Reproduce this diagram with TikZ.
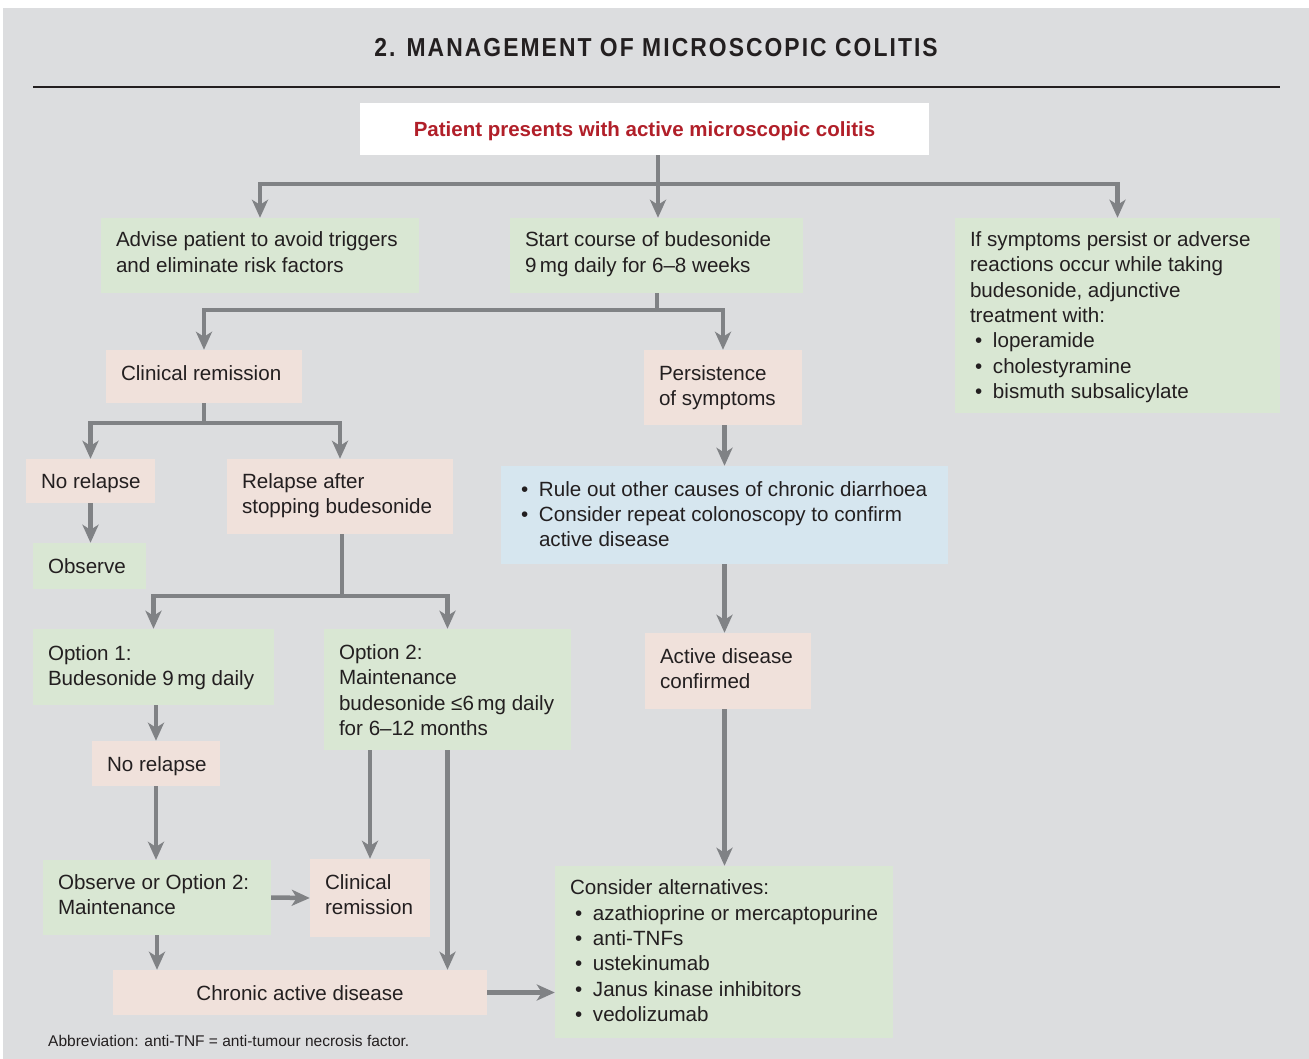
\documentclass[tikz,border=0pt]{standalone}
\usepackage{fontspec}
\setmainfont{Liberation Sans}
\usetikzlibrary{arrows.meta}
\definecolor{bgcol}{HTML}{DCDDDF}
\definecolor{gfill}{HTML}{D9E7D3}
\definecolor{pfill}{HTML}{F0E1DB}
\definecolor{bfill}{HTML}{D6E6EF}
\definecolor{agray}{HTML}{808285}
\definecolor{txtcol}{HTML}{231F20}
\definecolor{titlered}{HTML}{B11F29}
\newcommand{\bul}{\hspace*{5pt}\makebox[18pt][l]{\textbullet}}
\newcommand{\bulind}{\hspace*{23pt}}
% fixed-width, left-aligned block of lines; optional visual raise
\newcommand{\tb}[3][0pt]{\raisebox{#1}[\height][\depth]{\makebox[#2pt][l]{\begin{tabular}[c]{@{}l@{}}#3\end{tabular}}}}
\begin{document}
\begin{tikzpicture}[x=1pt,y=-1pt,
  base/.style={inner xsep=15pt, inner ysep=0pt, text=txtcol,
    font=\fontsize{20.6}{25.3}\selectfont},
  gbox/.style={base, fill=gfill},
  pbox/.style={base, fill=pfill},
  bbox/.style={base, fill=bfill},
  conn/.style={draw=agray, line width=4.5pt, line join=miter},
  arr/.style={conn, -{Stealth[length=18pt,width=16pt,inset=5pt]}},
]
\useasboundingbox (0,0) rectangle (1309,1059);
\fill[white] (0,0) rectangle (1309,1059);
\fill[bgcol] (3,8) rectangle (1309,1059);

% title and rule
\node[text=txtcol, font=\fontsize{26}{30}\selectfont\bfseries\addfontfeature{FakeStretch=0.88,LetterSpace=7.9}] (title) at (656,48) {2. MANAGEMENT OF MICROSCOPIC COLITIS};
\coordinate (rl) at (33,87);
\coordinate (rr) at (1280,87);
\draw[line width=1.5pt, txtcol] (rl) -- (rr);

% top box
\node[fill=white, inner sep=0pt, minimum width=569, minimum height=52, text=titlered,
  font=\fontsize{20.5}{24}\selectfont\bfseries] (top) at (644.5,129) {\raisebox{-2pt}[\height][\depth]{Patient presents with active microscopic colitis}};

% level 1
\node[gbox, minimum width=318, minimum height=75] (adv) at (260,255.5)
  {\tb[1pt]{288}{Advise patient to avoid triggers\\and eliminate risk factors}};
\node[gbox, minimum width=293, minimum height=75] (bud) at (656.5,255.5)
  {\tb[1pt]{263}{Start course of budesonide\\9\,mg daily for 6–8 weeks}};
\node[gbox, minimum width=325, minimum height=195] (adj) at (1117.5,315.5)
  {\tb[-2pt]{295}{If symptoms persist or adverse\\reactions occur while taking\\budesonide, adjunctive\\treatment with:\\\bul loperamide\\\bul cholestyramine\\\bul bismuth subsalicylate}};

% level 2
\node[pbox, minimum width=196, minimum height=53] (cr) at (204,376.5) {\tb[1pt]{166}{Clinical remission}};
\node[pbox, minimum width=158, minimum height=75] (pers) at (723,387.5) {\tb[-0.5pt]{128}{Persistence\\of symptoms}};

% level 3
\node[pbox, minimum width=129, minimum height=44] (nr1) at (90.5,481) {\tb[-2pt]{99}{No relapse}};
\node[pbox, minimum width=226, minimum height=75] (rel) at (340,496.5) {\tb[0.5pt]{196}{Relapse after\\stopping budesonide}};
\node[gbox, minimum width=113, minimum height=46] (obs) at (89.5,566) {\tb[-2pt]{83}{Observe}};
\node[bbox, minimum width=447, minimum height=98] (rule) at (724.5,515)
  {\tb[-1.5pt]{417}{\bul Rule out other causes of chronic diarrhoea\\\bul Consider repeat colonoscopy to confirm\\\bulind active disease}};

% level 4
\node[gbox, minimum width=241, minimum height=76] (opt1) at (153.5,667) {\tb[-1pt]{211}{Option 1:\\Budesonide 9\,mg daily}};
\node[gbox, minimum width=247, minimum height=121] (opt2) at (447.5,689.5)
  {\tb[-3pt]{217}{Option 2:\\Maintenance\\budesonide ≤6\,mg daily\\for 6–12 months}};
\node[pbox, minimum width=166, minimum height=76] (act) at (728,671) {\tb{136}{Active disease\\confirmed}};

\node[pbox, minimum width=128, minimum height=45] (nr2) at (156,763.5) {\tb[-3pt]{98}{No relapse}};
\node[gbox, minimum width=228, minimum height=75] (obs2) at (157,897.5) {\tb[0.5pt]{198}{Observe or Option 2:\\Maintenance}};
\node[pbox, minimum width=120, minimum height=78] (cr2) at (370,898) {\tb[1pt]{90}{Clinical\\remission}};
\node[pbox, minimum width=374, minimum height=45] (chr) at (300,992.5) {\raisebox{-1pt}[\height][\depth]{Chronic active disease}};
\node[gbox, minimum width=338, minimum height=172] (alt) at (724,952)
  {\tb[-1pt]{308}{Consider alternatives:\\\bul azathioprine or mercaptopurine\\\bul anti-TNFs\\\bul ustekinumab\\\bul Janus kinase inhibitors\\\bul vedolizumab}};

% footnote
\node[anchor=west, inner sep=0pt, text=txtcol, font=\fontsize{15.5}{18}\selectfont] (foot) at (48,1041)
  {Abbreviation: anti-TNF = anti-tumour necrosis factor.};

% junctions
\coordinate (j1) at (658,184);
\coordinate (j2) at (657,310);
\coordinate (j3) at (204,423);
\coordinate (j4) at (342,596);

% connectors
\draw[arr] (top.south -| j1) -- (j1) -| (adv.north);
\draw[arr] (j1) -| (adj.north);
\draw[arr] (top.south -| j1) -- (j1 |- bud.north);

\draw[arr] (bud.south -| j2) -- (j2) -| (cr.north);
\draw[arr] (j2) -| (pers.north);

\draw[arr] (cr.south -| j3) -- (j3) -| (nr1.north);
\draw[arr] (j3) -| (rel.north);

\draw[arr] (nr1.south) -- (nr1.south |- obs.north);

\draw[arr] (pers.south -| rule.north) -- (rule.north);
\draw[arr] (rule.south) -- (rule.south |- act.north);
\draw[arr] (act.south -| rule.south) -- (alt.north -| rule.south);

\draw[arr] (rel.south -| j4) -- (j4) -| (opt1.north);
\draw[arr] (j4) -| (opt2.north);

\draw[arr] (opt1.south -| nr2.north) -- (nr2.north);
\draw[arr] (nr2.south) -- (nr2.south |- obs2.north);
\draw[arr] (obs2.east) -- (cr2.west);
\draw[arr] (cr2.north |- opt2.south) -- (cr2.north);
\draw[arr] (opt2.south) -- (opt2.south |- chr.north);
\draw[arr] (obs2.south) -- (obs2.south |- chr.north);
\draw[arr] (chr.east) -- (chr.east -| alt.west);
\end{tikzpicture}
\end{document}
